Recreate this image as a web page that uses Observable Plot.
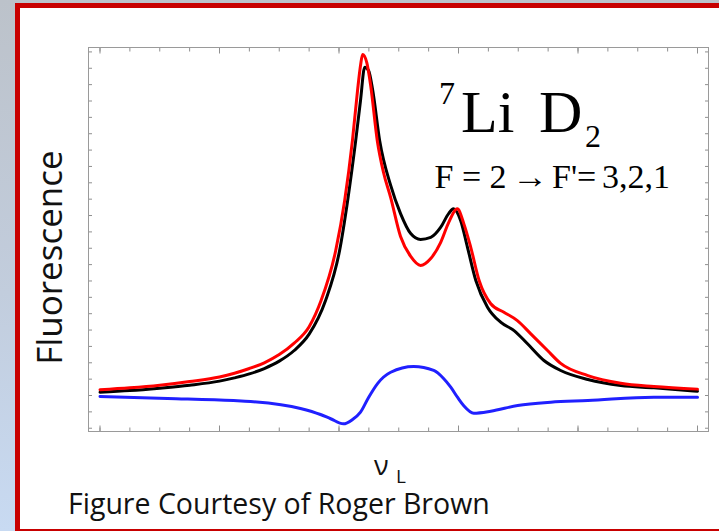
<!DOCTYPE html>
<html><head><meta charset="utf-8">
<script src="https://cdn.jsdelivr.net/npm/d3@7"></script>
<script src="https://cdn.jsdelivr.net/npm/@observablehq/plot@0.6"></script>
<style>
html,body{margin:0;padding:0;width:719px;height:531px;overflow:hidden;}
#bg{position:absolute;left:0;top:0;width:719px;height:531px;background:linear-gradient(to bottom,#bcc2ca 0%,#c2cddd 55%,#c8daf2 100%);}
#box{position:absolute;left:15px;top:3px;width:800px;height:531px;box-sizing:border-box;border:5.5px solid #c80000;background:#fff;}
#chart{position:absolute;left:0;top:0;}
</style></head><body>
<div id="bg"></div><div id="box"></div><div id="chart"></div>
<script>
// ---- data (x: laser detuning in tick units, y: fluorescence in tick units) ----
const redX = [0, 1, 2, 3, 4, 4.5, 5, 5.5, 6, 6.5, 7, 7.4, 7.89, 8.19, 8.45, 8.62, 8.72, 8.79, 8.93, 9.06, 9.28, 9.49, 9.73, 10.06, 10.40, 10.73, 11.07, 11.40, 11.67, 11.96, 12.18, 12.41, 12.69, 13.08, 13.52, 13.97, 14.42, 14.98, 15.42, 16.33, 17.43, 18.54, 20];
const redY = [0.35, 0.47, 0.63, 0.85, 1.13, 1.36, 1.65, 2.0, 2.5, 3.2, 4.2, 5.8, 8.86, 11.92, 15.59, 18.64, 20.17, 20.84, 20.35, 18.95, 15.59, 13.63, 12.10, 9.72, 8.50, 7.95, 8.37, 9.35, 10.57, 11.41, 10.49, 9.06, 7.03, 5.61, 5.09, 4.58, 3.77, 2.75, 1.96, 1.22, 0.75, 0.55, 0.39];

const blackX = [0, 1, 2, 3, 4, 4.5, 5, 5.5, 6, 6.5, 7, 7.55, 8.02, 8.29, 8.56, 8.72, 8.86, 8.99, 9.13, 9.36, 9.73, 10.06, 10.40, 10.73, 11.07, 11.40, 11.67, 11.83, 12.07, 12.30, 12.58, 12.97, 13.41, 13.86, 14.31, 14.86, 15.42, 16.33, 17.43, 18.54, 20];
const blackY = [0.20, 0.30, 0.45, 0.63, 0.88, 1.08, 1.32, 1.65, 2.1, 2.75, 3.75, 5.81, 8.86, 11.92, 15.59, 18.03, 20.07, 19.87, 18.64, 15.59, 12.84, 11.12, 9.90, 9.54, 9.66, 10.27, 11.12, 11.41, 10.70, 9.06, 7.03, 5.40, 4.48, 3.97, 3.16, 2.14, 1.53, 0.98, 0.61, 0.47, 0.26];

const blueX = [0, 2.26, 4.47, 5.04, 6.71, 7.38, 7.72, 8.15, 8.45, 8.72, 8.99, 9.29, 9.73, 10.50, 11.17, 11.50, 11.74, 11.97, 12.17, 12.51, 13.08, 13.98, 15.09, 16.33, 18.54, 20];
const blueY = [-0.06, -0.18, -0.31, -0.37, -0.79, -1.16, -1.42, -1.73, -1.47, -1.02, -0.12, 0.73, 1.42, 1.77, 1.53, 1.04, 0.51, -0.12, -0.61, -1.08, -0.96, -0.61, -0.41, -0.31, -0.10, -0.10];

const xMinorTicks = [0,1,2,3,4,5,6,7,8,9,10,11,12,13,14,15,16,17,18,19,20];
const xMajorTicks = [0,4,8,12,16,20];
const yTicks = [-2,-1,0,1,2,3,4,5,6,7,8,9,10,11,12,13,14,15,16,17,18,19,20,21];

const yLabel = "Fluorescence";
const xLabel = "ν", xLabelSub = "L";
const caption = "Figure Courtesy of Roger Brown";
const titleSup = "7", titleMain = "Li", titleMain2 = "D", titleSub = "2";
const transition = ["F = 2", "→", "F'=", "3,2,1"];

const toRows = (xs, ys) => xs.map((x, i) => ({x, y: ys[i]}));
const red = toRows(redX, redY), black = toRows(blackX, blackY), blue = toRows(blueX, blueY);

const tickColor = "#8f8f8f";
const chart = Plot.plot({
  width: 719, height: 531,
  marginLeft: 88, marginRight: 11, marginTop: 47, marginBottom: 100,
  style: {background: "transparent", overflow: "visible"},
  x: {domain: [-0.385, 20.368]},
  y: {domain: [-2.20, 21.27]},
  marks: [
    Plot.axisX(xMinorTicks, {anchor: "bottom", tickSize: -3.5, tickFormat: () => "", stroke: tickColor, label: null}),
    Plot.axisX(xMinorTicks, {anchor: "top", tickSize: -3.5, tickFormat: () => "", stroke: tickColor, label: null}),
    Plot.axisX(xMajorTicks, {anchor: "bottom", tickSize: -5.5, tickFormat: () => "", stroke: tickColor, label: null}),
    Plot.axisX(xMajorTicks, {anchor: "top", tickSize: -5.5, tickFormat: () => "", stroke: tickColor, label: null}),
    Plot.axisY(yTicks, {anchor: "left", tickSize: -4, tickFormat: () => "", stroke: tickColor, label: null}),
    Plot.axisY(yTicks, {anchor: "right", tickSize: -4, tickFormat: () => "", stroke: tickColor, label: null}),
    Plot.frame({stroke: "#9a9a9a"}),
    Plot.line(blue, {x: "x", y: "y", stroke: "#2020ff", strokeWidth: 3, curve: "monotone-x"}),
    Plot.line(black, {x: "x", y: "y", stroke: "#000000", strokeWidth: 3, curve: "monotone-x"}),
    Plot.line(red, {x: "x", y: "y", stroke: "#ff0000", strokeWidth: 3, curve: "monotone-x"})
  ]
});
document.getElementById("chart").appendChild(chart);

// ---- annotations ----
const svg = d3.select(chart);
const g = svg.append("g").attr("fill", "#111").attr("text-anchor", "start");
const sans = "'Open Sans', sans-serif";
const serif = "'Liberation Serif', 'Times New Roman', serif";

g.append("text").attr("transform", "translate(61.5,257.5) rotate(-90)")
  .attr("text-anchor", "middle").style("font-family", sans).style("font-size", "35px").text(yLabel);

g.append("text").attr("x", 374).attr("y", 475).style("font-family", sans).style("font-size", "27px").text(xLabel);
g.append("text").attr("x", 396).attr("y", 483).style("font-family", sans).style("font-size", "19px").text(xLabelSub);

g.append("text").attr("x", 68).attr("y", 514).style("font-family", sans).style("font-size", "28.5px").text(caption);

const t = g.append("text").style("font-family", serif).attr("fill", "#000");
t.append("tspan").attr("x", 439).attr("y", 103.5).style("font-size", "32px").text(titleSup);
t.append("tspan").attr("x", 461).attr("y", 131.7).style("font-size", "60px").text(titleMain);
t.append("tspan").attr("x", 539).attr("y", 131.7).style("font-size", "60px").text(titleMain2);
t.append("tspan").attr("x", 585).attr("y", 147).style("font-size", "32px").text(titleSub);

const trX = [434.5, 512, 552, 602];
transition.forEach((s, i) => {
  const el = g.append("text").attr("x", trX[i]).attr("y", 188)
    .style("font-family", serif).style("font-size", "34px").attr("fill", "#000").text(s);
  if (s === "→") el.attr("textLength", 36).attr("lengthAdjust", "spacingAndGlyphs");
});
</script></body></html>
